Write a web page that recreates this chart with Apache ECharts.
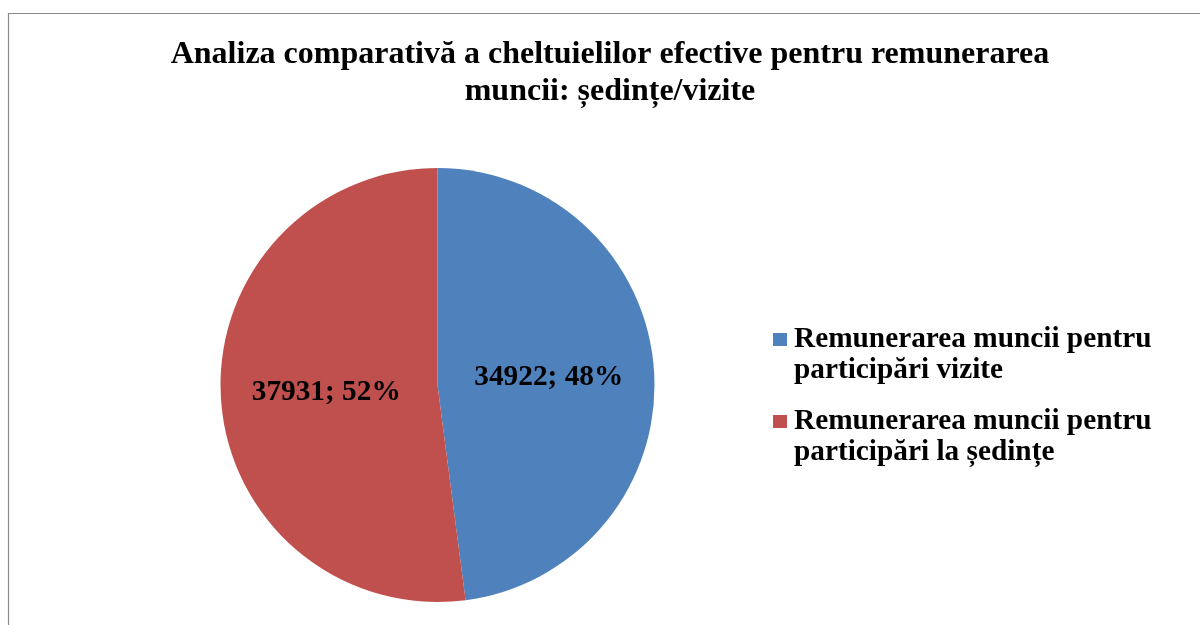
<!DOCTYPE html>
<html>
<head>
<meta charset="utf-8">
<script src="https://cdn.jsdelivr.net/npm/echarts@6/dist/echarts.min.js"></script>
<style>html,body{margin:0;padding:0;background:#fff}#c{width:1200px;height:625px}</style>
</head>
<body>
<div id="c"></div>
<script>
const titleText = 'Analiza comparativă a cheltuielilor efective pentru remunerarea\nmuncii: ședințe/vizite';
const categories = ['Remunerarea muncii pentru\nparticipări vizite', 'Remunerarea muncii pentru\nparticipări la ședințe'];
const values = [34922, 37931];
const colors = ['#4F81BD', '#C0504D'];

const serif = "'Liberation Serif', 'Times New Roman', serif";
const chart = echarts.init(document.getElementById('c'));
chart.setOption({
  backgroundColor: '#fff',
  animation: false,
  graphic: [{
    type: 'rect', silent: true,
    shape: { x: 8.5, y: 13.5, width: 1300, height: 800 },
    style: { fill: null, stroke: '#8a8a8a', lineWidth: 1.2 }
  }],
  title: {
    text: titleText,
    left: 610,
    textAlign: 'center',
    top: 36.5,
    padding: 0,
    textStyle: { fontFamily: serif, fontSize: 32, fontWeight: 'bold', color: '#000', lineHeight: 37 }
  },
  legend: {
    orient: 'vertical',
    left: 773,
    top: 293,
    padding: 0,
    itemWidth: 14,
    itemHeight: 13,
    itemGap: -11,
    icon: 'rect',
    data: categories,
    formatter: name => '\n' + name,
    textStyle: { fontFamily: serif, fontSize: 29.3, fontWeight: 'bold', color: '#000', lineHeight: 31, padding: [0, 0, 0, 2] }
  },
  series: [{
    type: 'pie',
    center: [437.5, 385],
    radius: [0, 217],
    startAngle: 90,
    clockwise: true,
    percentPrecision: 0,
    label: {
      show: true, position: 'inside',
      formatter: '{c}; {d}%',
      fontFamily: serif, fontSize: 29.3, fontWeight: 'bold', color: '#000'
    },
    labelLine: { show: false },
    itemStyle: { borderWidth: 0 },
    emphasis: { disabled: true },
    data: categories.map((n, i) => ({ name: n, value: values[i], itemStyle: { color: colors[i] } }))
  }]
});
</script>
</body>
</html>
